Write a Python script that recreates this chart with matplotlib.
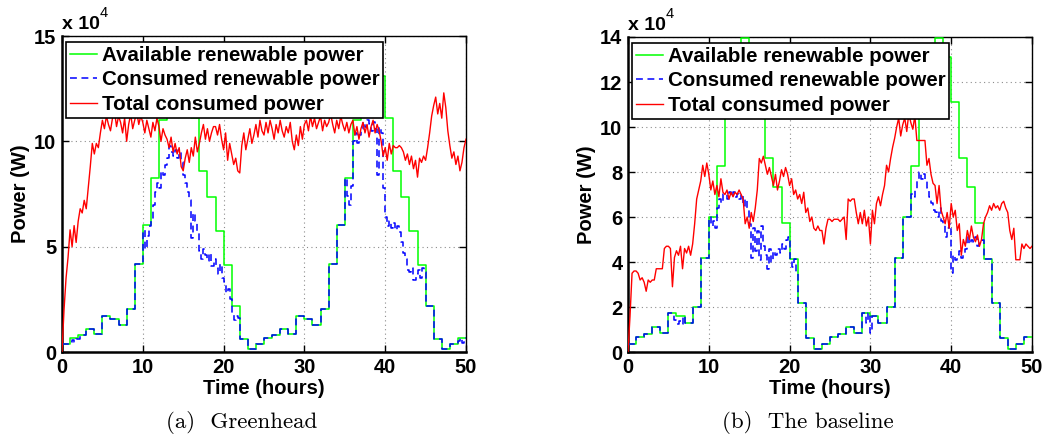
import numpy as np
import matplotlib
matplotlib.use("Agg")
import matplotlib.pyplot as plt
from matplotlib.ticker import FuncFormatter

# ---- data (power in kW) ----
hours = np.arange(0, 51)          # hourly step boundaries, 0..50 h
t_q = np.arange(0, 201) * 0.25    # quarter-hour samples, 0..50 h

# available renewable power, one value per hour (hours 0..49)
avail_kw = [3.6, 6.5, 7.9, 11.0, 8.6, 17.2, 15.9, 12.8, 20.2, 42.0,
            60.2, 82.5, 110, 130, 139.5, 131, 111, 86, 73.5, 57.4,
            41.3, 22.0, 6.1, 1.3, 3.6, 6.5, 7.9, 11.0, 8.6, 17.2,
            15.9, 12.8, 20.2, 42.0, 60.2, 82.5, 110, 130, 139.5, 131,
            111, 86, 73.5, 57.4, 41.3, 22.0, 6.1, 1.3, 3.6, 6.6]

# (a) Greenhead
greenhead_total_kw = [
    0, 20, 35, 45, 58, 50, 60, 52, 62, 68, 66, 72, 68, 78, 88, 99,
    94, 99, 97, 104, 110, 106, 112, 108, 105, 111, 114, 107, 112, 109, 104, 111,
    100, 108, 113, 106, 110, 114, 108, 112, 109, 104, 110, 106, 102, 109, 105, 111,
    107, 100, 106, 103, 101, 97, 102, 95, 99, 94, 97, 88, 86, 92, 96, 90,
    97, 93, 102, 95, 99, 104, 108, 101, 106, 100, 104, 107, 107, 103, 108, 101,
    96, 104, 91, 99, 94, 89, 92, 86, 85, 98, 104, 96, 101, 106, 99, 103,
    108, 102, 110, 105, 103, 109, 104, 110, 106, 101, 108, 104, 110, 105, 102, 107,
    104, 109, 100, 96, 103, 98, 107, 101, 108, 110, 105, 112, 107, 111, 106, 109,
    112, 105, 110, 107, 109, 113, 108, 104, 110, 106, 112, 108, 105, 109, 104, 108,
    110, 103, 107, 101, 106, 109, 104, 108, 102, 107, 110, 104, 108, 105, 100, 93,
    97, 91, 99, 94, 98, 97, 97, 98, 97, 95, 91, 94, 89, 93, 87, 91,
    83, 92, 90, 93, 91, 97, 104, 112, 117, 121, 113, 118, 111, 123, 116, 105,
    98, 92, 95, 89, 93, 86, 90, 97, 101]

greenhead_used_kw = [
    3.6, 3.6, 3.6, 3.6, 4.8, 5.5, 4.6, 6.0, 6.2, 7.9, 7.9, 7.9, 11.0, 11.0, 11.0, 11.0,
    8.6, 8.6, 8.6, 8.6, 17.2, 17.2, 17.2, 17.2, 15.9, 15.9, 15.9, 15.9, 12.8, 12.8, 12.8, 12.8,
    20.2, 20.2, 20.2, 20.2, 42.0, 42.0, 42.0, 42.0, 58, 49, 55, 60, 62, 70, 76, 80,
    78, 86, 84, 89, 92, 98, 95, 93, 96, 92, 95, 90, 84, 80, 76, 72,
    54, 66, 62, 57, 48, 44, 49, 46, 43, 47, 41, 44, 40, 37, 42, 35,
    33, 28, 30, 25, 18, 15, 17, 16, 6.1, 6.1, 6.1, 6.1, 1.3, 1.3, 1.3, 1.3,
    3.6, 3.6, 3.6, 3.6, 6.5, 6.5, 6.5, 6.5, 7.9, 7.9, 7.9, 7.9, 11.0, 11.0, 11.0, 11.0,
    8.6, 8.6, 8.6, 8.6, 17.2, 17.2, 17.2, 17.2, 15.9, 15.9, 15.9, 15.9, 12.8, 12.8, 12.8, 12.8,
    20.2, 20.2, 20.2, 20.2, 42.0, 42.0, 42.0, 42.0, 60.2, 60.2, 60.2, 60.2, 82.5, 74, 70, 79,
    100, 104, 99, 103, 106, 109, 107, 110, 108, 105, 109, 106, 84, 107, 104, 78,
    64, 60, 62, 59, 61, 58, 60, 57, 52, 47, 44, 39, 38, 40, 34, 37,
    39, 35, 40, 38, 22.0, 22.0, 22.0, 22.0, 6.1, 6.1, 6.1, 6.1, 1.3, 1.3, 1.3, 1.3,
    3.6, 3.6, 3.6, 3.6, 5.0, 6.6, 4.5, 6.6, 6.6]

# (b) The baseline
baseline_total_kw = [
    0, 16, 35, 36, 36, 35, 32, 33, 31, 27, 32, 31, 32, 32, 37, 37,
    37, 37, 46, 47, 47, 46, 29, 42, 45, 43, 47, 37, 46, 44, 47, 43,
    48, 57, 68, 72, 76, 83, 78, 84, 79, 72, 76, 70, 74, 69, 77, 71,
    70, 72, 68, 71, 69, 71, 70, 72, 70, 68, 57, 60, 55, 62, 58, 64,
    72, 86, 84, 87, 83, 79, 82, 78, 74, 79, 72, 76, 81, 78, 82, 79,
    74, 77, 70, 72, 68, 70, 66, 71, 62, 64, 58, 60, 55, 54, 56, 54,
    54, 48, 55, 59, 59, 58, 59, 59, 59, 58, 59, 60, 50, 68, 67, 68,
    68, 62, 57, 62, 57, 63, 56, 60, 48, 63, 57, 66, 69, 65, 70, 74,
    83, 80, 86, 91, 95, 100, 104, 96, 101, 104, 98, 106, 102, 99, 105, 94,
    94, 94, 94, 94, 83, 86, 79, 75, 74, 66, 74, 63, 60, 57, 62, 55,
    66, 60, 63, 54, 57, 43, 50, 47, 54, 50, 56, 51, 49, 52, 47, 50,
    57, 60, 62, 65, 63, 66, 64, 65, 63, 66, 67, 64, 62, 54, 50, 55,
    41, 41, 41, 48, 46, 48, 47, 46, 47]

baseline_used_kw = [
    3.6, 3.6, 3.6, 3.6, 6.5, 6.5, 6.5, 6.5, 7.9, 7.9, 7.9, 7.9, 11.0, 11.0, 11.0, 11.0,
    8.6, 8.6, 8.6, 8.6, 17.2, 17.2, 17.2, 14.3, 12.5, 14.0, 12.5, 15.9, 12.8, 12.8, 12.8, 12.8,
    20.2, 20.2, 20.2, 20.2, 42.0, 42.0, 42.0, 42.0, 60.2, 56, 58, 55, 64, 68, 66, 70,
    70, 68, 71, 69, 71, 69, 70, 68, 70, 65, 68, 64, 57, 42, 55, 45,
    54, 41, 56, 47, 43, 37, 46, 40, 45, 43, 46, 44, 48, 46, 50, 51,
    41.3, 38, 41.3, 35, 22.0, 22.0, 22.0, 22.0, 6.1, 6.1, 6.1, 6.1, 1.3, 1.3, 1.3, 1.3,
    3.6, 3.6, 3.6, 3.6, 6.5, 6.5, 6.5, 6.5, 7.9, 7.9, 7.9, 7.9, 11.0, 11.0, 11.0, 11.0,
    8.6, 8.6, 8.6, 8.6, 17.2, 17.2, 12.8, 17.2, 8.3, 15.9, 15.9, 15.9, 12.8, 12.8, 12.8, 12.8,
    20.2, 20.2, 20.2, 20.2, 42.0, 42.0, 42.0, 42.0, 60.2, 60.2, 60.2, 60.2, 70, 69, 72, 76,
    80, 77, 79, 76, 73, 69, 66, 63, 62, 60, 64, 58, 57, 51, 55, 57,
    35, 43, 41, 43, 45, 42, 44, 46, 52, 48, 50, 49, 51, 47, 49, 50,
    41.3, 41.3, 41.3, 41.3, 22.0, 22.0, 22.0, 22.0, 6.1, 6.1, 6.1, 6.1, 1.3, 1.3, 1.3, 1.3,
    3.6, 3.6, 3.6, 3.6, 6.6, 6.6, 6.6, 6.6, 6.6]

panels = [
    dict(total=greenhead_total_kw, used=greenhead_used_kw, ymax=15, ystep=5,
         caption="(a)  Greenhead", rect=[62, 36, 404, 316], cap_x=242),
    dict(total=baseline_total_kw, used=baseline_used_kw, ymax=14, ystep=2,
         caption="(b)  The baseline", rect=[628, 37, 404, 315], cap_x=808),
]

W, H = 1044, 440
SANS = ["Liberation Sans", "DejaVu Sans"]
FS = 14

fig = plt.figure(figsize=(W / 100, H / 100), dpi=100)

for p in panels:
    x0, y0, w, h = p["rect"]
    ax = fig.add_axes([x0 / W, 1 - (y0 + h) / H, w / W, h / H])

    green_w = np.array(avail_kw + [avail_kw[-1]]) * 1e3
    ax.plot(hours, green_w, drawstyle="steps-post", color="#00ff00", lw=1.1,
            label="Available renewable power", zorder=3)
    ax.plot(t_q, np.array(p["used"]) * 1e3, drawstyle="steps-post",
            color="#0000ff", lw=1.1, ls=(0, (4.5, 3)),
            label="Consumed renewable power", zorder=4)
    ax.plot(t_q, np.array(p["total"]) * 1e3, color="#ff0000", lw=1.0,
            label="Total consumed power", zorder=5)

    ax.set_xlim(0, 50)
    ax.set_ylim(0, p["ymax"] * 1e4)
    ax.set_xticks(np.arange(0, 51, 10))
    ax.set_yticks(np.arange(0, p["ymax"] + 0.1, p["ystep"]) * 1e4)
    ax.yaxis.set_major_formatter(FuncFormatter(lambda v, pos: f"{v / 1e4:g}"))

    ax.grid(True, color="#8c8c8c", ls=(0, (1, 3)), lw=0.8)
    ax.set_axisbelow(True)
    ax.tick_params(direction="in", length=5, width=1.0, top=True, right=True,
                   labelsize=FS + 0.5, pad=4)
    for lab in ax.get_xticklabels() + ax.get_yticklabels():
        lab.set_fontfamily(SANS)
        lab.set_fontweight("bold")
    for side in ("left", "bottom"):
        ax.spines[side].set_linewidth(1.8)
    for side in ("top", "right"):
        ax.spines[side].set_linewidth(1.0)

    ax.set_xlabel("Time (hours)", fontsize=FS + 0.5, fontweight="bold",
                  family=SANS, labelpad=2)
    ax.set_ylabel("Power (W)", fontsize=FS + 0.5, fontweight="bold",
                  family=SANS, labelpad=3)

    # axis multiplier, MATLAB style
    ax.text(0.0, 1.01, "x 10", transform=ax.transAxes,
            fontsize=FS, fontweight="bold", family=SANS,
            ha="left", va="bottom")
    ax.text(38 / w, 1.05, "4", transform=ax.transAxes,
            fontsize=FS - 3.5, family=SANS, ha="left", va="bottom")

    leg = ax.legend(loc="upper left", bbox_to_anchor=(4 / w, 1 - 6 / h),
                    borderaxespad=0, frameon=True, fancybox=False,
                    framealpha=1.0, handlelength=1.35, handletextpad=0.2,
                    labelspacing=0.28, borderpad=0.18,
                    prop=dict(family=SANS, weight="bold", size=FS + 0.8))
    leg.get_frame().set_edgecolor("black")
    leg.get_frame().set_linewidth(1.2)
    leg.set_zorder(10)

    fig.text(p["cap_x"] / W, 1 - 422 / H, p["caption"], fontsize=16.5,
             family=["cmr10", "DejaVu Serif"], ha="center", va="center")

fig.savefig("out.png", dpi=100)
